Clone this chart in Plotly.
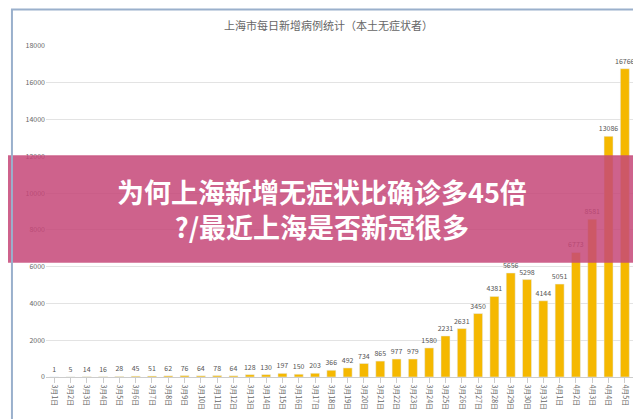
import plotly.graph_objects as go

# 上海本土无症状每日新增 (3月1日 - 4月5日)
dates = [f"3月{d}日" for d in range(1, 32)] + [f"4月{d}日" for d in range(1, 6)]
cases = [1, 5, 14, 16, 28, 45, 51, 62, 76, 64, 78, 64, 128, 130, 197, 150, 203, 366,
         492, 734, 865, 977, 979, 1580, 2231, 2631, 3450, 4381, 5656, 5298, 4144, 5051,
         6773, 8581, 13086, 16766]
y_ticks = list(range(0, 18001, 2000))

BAR_COLOR = "#F5B800"

fig = go.Figure(go.Bar(
    x=dates, y=cases, text=cases, textposition="outside", cliponaxis=False,
    constraintext="none",
    textfont=dict(size=7, color="#555"), marker_color=BAR_COLOR, width=0.55,
))

fig.update_layout(
    width=641, height=419, paper_bgcolor="white", plot_bgcolor="white",
    margin=dict(l=38, r=16, t=38, b=50), showlegend=False,
    font=dict(family="Noto Sans CJK SC"),
    title=dict(text="上海市每日新增病例统计（本土无症状者）", x=0.5, y=0.965,
               font=dict(size=11, color="#666")),
    xaxis=dict(tickangle=90, tickfont=dict(size=7, color="#666"), showline=True,
               linecolor="#ccc", ticks="outside", tickcolor="#ccc"),
    yaxis=dict(range=[0, 18000], tickvals=y_ticks, ticktext=[str(v) for v in y_ticks],
               tickfont=dict(size=7, color="#666"),
               gridcolor="#e3e3e3", zeroline=False),
    shapes=[
        dict(type="rect", xref="paper", yref="paper", x0=-0.08, x1=1.04, y0=0.345, y1=0.67,
             fillcolor="rgba(198,70,120,0.85)", line_width=0, layer="above"),
        dict(type="rect", xref="paper", yref="paper", x0=-0.058, x1=1.022, y0=-0.15, y1=1.11,
             line=dict(color="#9ab0cc", width=2), layer="above"),
    ],
    annotations=[dict(text="<b>为何上海新增无症状比确诊多45倍<br>?/最近上海是否新冠很多</b>",
                      xref="paper", yref="paper", x=0.47, y=0.507, showarrow=False,
                      font=dict(size=27, color="white", family="Noto Sans CJK SC"),
                      align="center")],
)

fig.write_html("out.html")
